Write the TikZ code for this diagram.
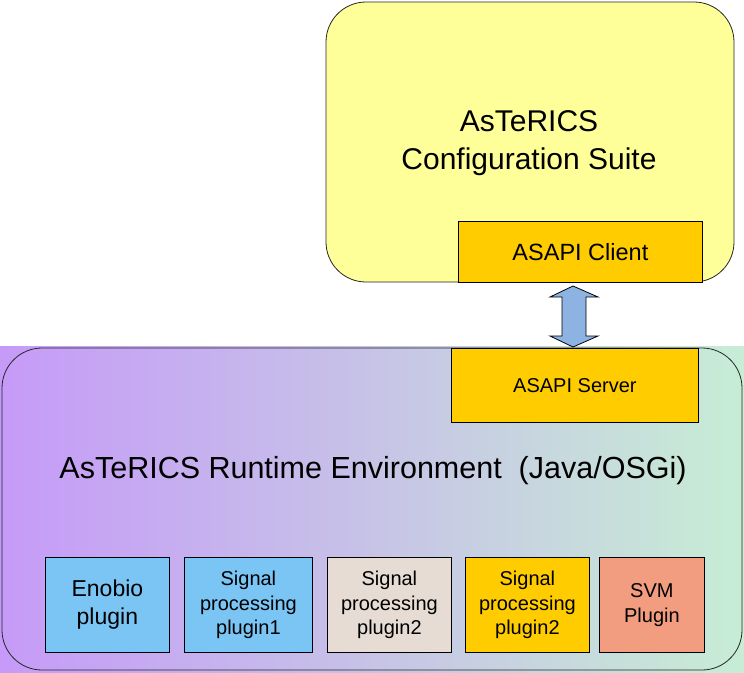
\documentclass[tikz,border=0pt]{standalone}
\usepackage{fontspec}
\setmainfont{Liberation Sans}
\usetikzlibrary{shapes.arrows}
\definecolor{suiteyellow}{HTML}{FFFF99}
\definecolor{asapiorange}{HTML}{FFCC00}
\definecolor{plugblue}{HTML}{7BC5F5}
\definecolor{plugbeige}{HTML}{E6DCD3}
\definecolor{plugsalmon}{HTML}{F29C80}
\definecolor{gradpurple}{HTML}{C69AF8}
\definecolor{gradmid}{HTML}{C9C9E2}
\definecolor{gradgreen}{HTML}{C7EDD5}
\definecolor{arrowblue}{HTML}{8DB3E2}
\tikzset{
  bigbox/.style={draw=black!85, line width=0.8pt, rounded corners=40pt},
  plain/.style={draw=black, line width=0.8pt},
  plug/.style={plain, minimum width=#1, minimum height=95pt, inner sep=0pt, align=center, anchor=north west},
}
\begin{document}
\begin{tikzpicture}[x=1pt,y=-1pt]
\useasboundingbox (0,0) rectangle (744,672);
% runtime gradient
\shade[shading angle=100, left color=gradpurple, middle color=gradmid, right color=gradgreen] (0,346) rectangle (744,672);
% upper suite box
\draw[bigbox, fill=suiteyellow] (326,2) rectangle (734,282);
\node[font=\fontsize{30}{38}\selectfont, align=center] (suite) at (529,143.5) {AsTeRICS\\Configuration Suite};
\node[plain, fill=asapiorange, minimum width=244pt, minimum height=61pt, inner sep=0pt, anchor=north west, font=\fontsize{23.5}{28}\selectfont] (client) at (458,221) {ASAPI Client};
% lower runtime box
\draw[bigbox] (2,348) rectangle (742,670);
\node[plain, fill=asapiorange, minimum width=247pt, minimum height=74pt, inner sep=0pt, anchor=north west, font=\fontsize{20}{24}\selectfont] (server) at (451,348) {ASAPI Server};
\node[font=\fontsize{30.5}{36}\selectfont] (runtime) at (373,471) {AsTeRICS Runtime Environment\ \ (Java/OSGi)};
% plugins
\node[plug=124pt, fill=plugblue, font=\fontsize{23}{28}\selectfont] (enobio) at (45,557) {Enobio\\plugin};
\node[plug=128pt, fill=plugblue, font=\fontsize{20}{24.5}\selectfont] (sp1) at (184,557) {Signal\\processing\\plugin1};
\node[plug=124pt, fill=plugbeige, font=\fontsize{20}{24.5}\selectfont] (sp2) at (327,557) {Signal\\processing\\plugin2};
\node[plug=124pt, fill=asapiorange, font=\fontsize{20}{24.5}\selectfont] (sp3) at (465,557) {Signal\\processing\\plugin2};
\node[plug=105pt, fill=plugsalmon, font=\fontsize{20}{24.5}\selectfont] (svm) at (599,557) {SVM\\Plugin};
% double arrow
\draw[line width=0.8pt, fill=arrowblue, line join=miter]
  (573,286) -- (598,297) -- (586,297) -- (586,336) -- (598,336) -- (573,347)
  -- (550,336) -- (562,336) -- (562,297) -- (550,297) -- cycle;
\end{tikzpicture}
\end{document}
